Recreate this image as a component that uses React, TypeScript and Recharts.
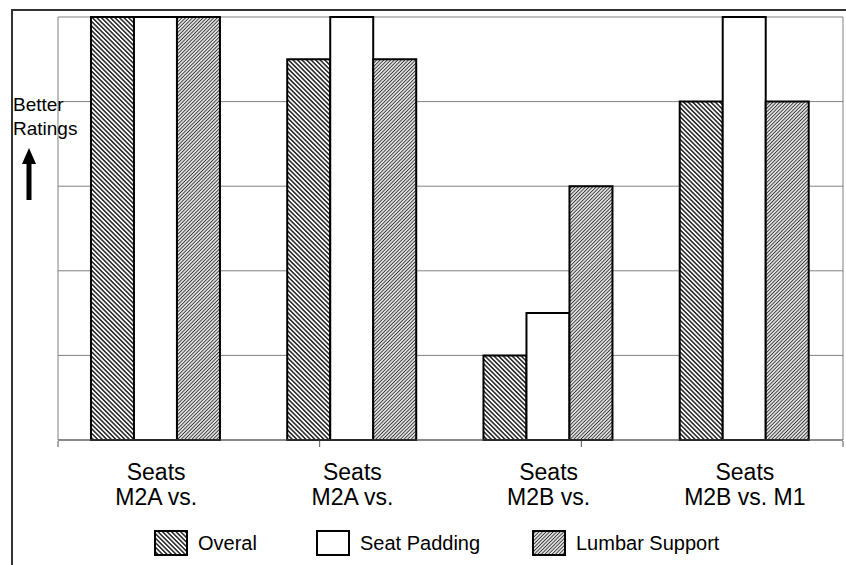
import React from 'react';
import {
  BarChart,
  Bar,
  XAxis,
  YAxis,
  CartesianGrid,
  Legend,
} from 'recharts';

// tick labels, two lines per group
const labelLine1 = ['Seats', 'Seats', 'Seats', 'Seats'];
const labelLine2 = ['M2A vs.', 'M2A vs.', 'M2B vs.', 'M2B vs. M1'];

// ratings, 0..5
const overal = [5, 4.5, 1, 4];
const seatPadding = [5, 5, 1.5, 5];
const lumbarSupport = [5, 4.5, 3, 4];

const yTicks = [0, 1, 2, 3, 4, 5];
const edgeTicks = [0, 1, 2, 3, 4];

const seriesNames = ['Overal', 'Seat Padding', 'Lumbar Support'];
const seriesFills = ['url(#hatchBack)', '#ffffff', 'url(#hatchFwd)'];

const data = labelLine1.map((_, i) => ({
  idx: String(i),
  overal: overal[i],
  seatPadding: seatPadding[i],
  lumbar: lumbarSupport[i],
}));

const FONT = "Arial, 'Liberation Sans', sans-serif";
const blank = () => '';

const CategoryTick = (props: any) => {
  const { x, y, payload } = props;
  const i = payload.index;
  return (
    <g>
      <text x={x} y={y + 40} textAnchor="middle" fontSize={23} fill="#000">
        {labelLine1[i]}
      </text>
      <text x={x} y={y + 65} textAnchor="middle" fontSize={23} fill="#000">
        {labelLine2[i]}
      </text>
    </g>
  );
};

const LegendBoxes = () => {
  const widths = [162, 216, undefined];
  return (
    <div
      style={{
        display: 'flex',
        alignItems: 'center',
        height: 26,
        paddingLeft: 154,
        fontFamily: FONT,
        fontSize: 20,
        color: '#000',
      }}
    >
      {seriesNames.map((name, i) => (
        <div
          key={name}
          style={{ display: 'flex', alignItems: 'center', width: widths[i] }}
        >
          <svg width={34} height={26} style={{ display: 'block' }}>
            <rect
              x={1}
              y={1}
              width={32}
              height={24}
              fill={seriesFills[i]}
              stroke="#000"
              strokeWidth={2}
            />
          </svg>
          <span style={{ marginLeft: 10, whiteSpace: 'nowrap' }}>{name}</span>
        </div>
      ))}
    </div>
  );
};

export default function App() {
  return (
    <div
      style={{
        position: 'absolute',
        left: 0,
        top: 0,
        width: 846,
        height: 565,
        overflow: 'hidden',
        background: '#fff',
        fontFamily: FONT,
      }}
    >
      <div
        style={{
          position: 'absolute',
          left: 11,
          top: 9,
          width: 900,
          height: 600,
          borderTop: '2px solid #333',
          borderLeft: '2px solid #333',
        }}
      />
      <BarChart
        width={846}
        height={565}
        data={data}
        margin={{ top: 17, right: 2, bottom: 123, left: 57 }}
        barCategoryGap="16.8%"
        barGap={0}
      >
        <defs>
          <pattern
            id="hatchBack"
            patternUnits="userSpaceOnUse"
            width={3.2}
            height={10}
            patternTransform="rotate(-45)"
          >
            <rect width={3.2} height={10} fill="#fff" />
            <line x1={1.6} y1={0} x2={1.6} y2={10} stroke="#111" strokeWidth={1.4} />
          </pattern>
          <pattern
            id="hatchFwd"
            patternUnits="userSpaceOnUse"
            width={2.5}
            height={10}
            patternTransform="rotate(45)"
          >
            <rect width={2.5} height={10} fill="#fff" />
            <line x1={1.25} y1={0} x2={1.25} y2={10} stroke="#333" strokeWidth={1.1} />
          </pattern>
        </defs>
        <CartesianGrid vertical={false} stroke="#808080" />
        <XAxis
          dataKey="idx"
          height={1}
          tickLine={false}
          tickSize={0}
          tickMargin={0}
          axisLine={{ stroke: '#555' }}
          tick={CategoryTick}
          interval={0}
        />
        <XAxis
          xAxisId="edges"
          type="number"
          domain={[0, 4]}
          ticks={edgeTicks}
          tickFormatter={blank}
          axisLine={false}
          tickLine={{ stroke: '#555' }}
          tickSize={6}
          height={1}
          interval={0}
        />
        <YAxis
          domain={[0, 5]}
          ticks={yTicks}
          width={1}
          tickFormatter={blank}
          tickLine={false}
          axisLine={{ stroke: '#808080' }}
          interval={0}
        />
        <YAxis
          yAxisId="right"
          orientation="right"
          domain={[0, 5]}
          ticks={yTicks}
          width={1}
          tickFormatter={blank}
          tickLine={false}
          axisLine={{ stroke: '#808080' }}
          interval={0}
        />
        <Legend
          verticalAlign="middle"
          align="center"
          layout="horizontal"
          wrapperStyle={{ top: 530, left: 0, width: 846, height: 26 }}
          content={() => <LegendBoxes />}
        />
        <Bar
          dataKey="overal"
          name={seriesNames[0]}
          fill={seriesFills[0]}
          stroke="#000"
          strokeWidth={2}
          isAnimationActive={false}
        />
        <Bar
          dataKey="seatPadding"
          name={seriesNames[1]}
          fill={seriesFills[1]}
          stroke="#000"
          strokeWidth={2}
          isAnimationActive={false}
        />
        <Bar
          dataKey="lumbar"
          name={seriesNames[2]}
          fill={seriesFills[2]}
          stroke="#000"
          strokeWidth={2}
          isAnimationActive={false}
        />
      </BarChart>
      <svg
        width={846}
        height={565}
        style={{ position: 'absolute', left: 0, top: 0, pointerEvents: 'none' }}
      >
        <text x={13} y={111} fontSize={19} fill="#000">
          Better
        </text>
        <text x={13} y={135} fontSize={19} fill="#000">
          Ratings
        </text>
        <polygon points="29,148 36,164 22,164" fill="#000" />
        <rect x={26.5} y={162} width={5} height={38} fill="#000" />
      </svg>
    </div>
  );
}
